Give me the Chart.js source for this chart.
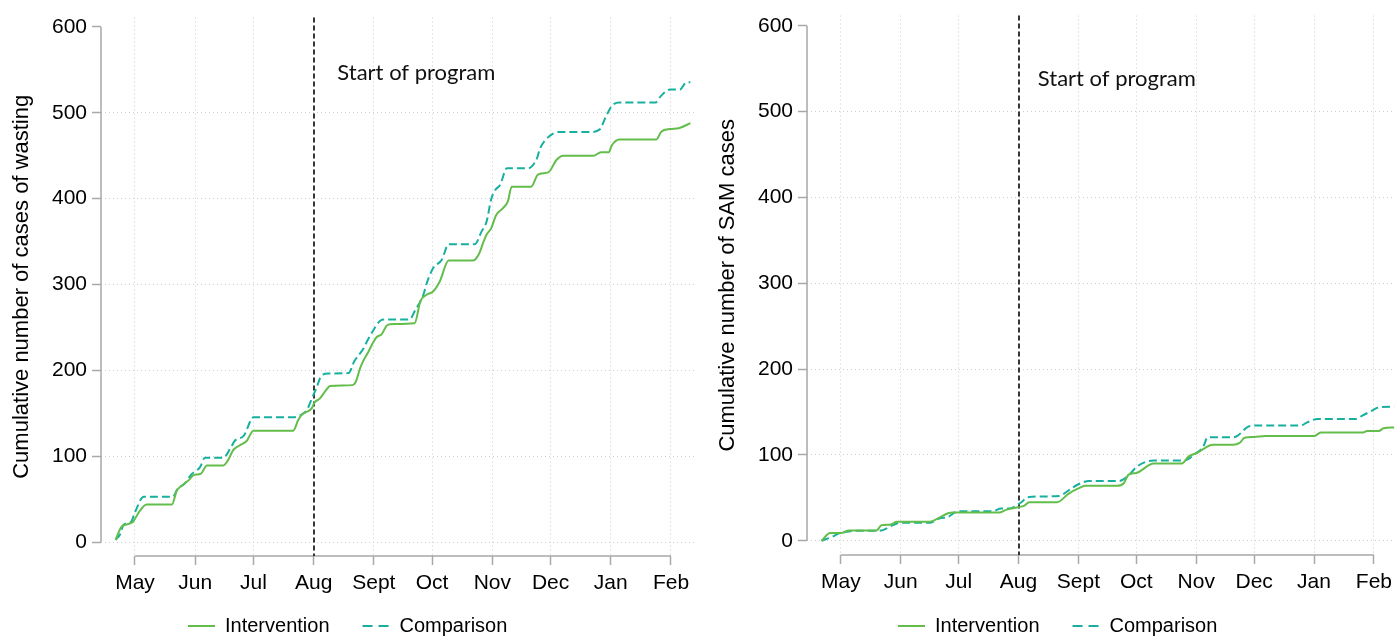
<!DOCTYPE html>
<html><head><meta charset="utf-8">
<script src="https://cdn.jsdelivr.net/npm/chart.js@4.4.1/dist/chart.umd.min.js"></script>
<style>
html,body{margin:0;padding:0;background:#fff;overflow:hidden;}
#wrap{position:relative;width:1398px;height:637px;overflow:hidden;}
canvas{position:absolute;}
#c1{left:0;top:0;}
#c2{left:699px;top:-2px;}
</style></head><body>
<div id="wrap"><canvas id="c1" width="700" height="637"></canvas><canvas id="c2" width="699" height="639"></canvas></div>
<script>
// ---- axis / category data ----
const monthDays = [0, 31, 61, 92, 123, 153, 184, 214, 245, 276]; // days since May 1
const monthLabels = ['May', 'Jun', 'Jul', 'Aug', 'Sept', 'Oct', 'Nov', 'Dec', 'Jan', 'Feb'];
const yTicks = [0, 100, 200, 300, 400, 500, 600];
const programStartDay = 92;
const programLabel = 'Start of program';
const seriesLabels = ['Intervention', 'Comparison'];

// ---- left panel: cumulative cases of wasting ----
const wastingIntDays = [-10, -7, -4, -1, 2, 6, 19, 21.5, 24, 28, 30, 34, 37, 45.5, 48, 50.5, 54, 57.5, 61, 81.5, 84, 86, 88.5, 91, 92.5, 95, 98, 100.5, 112, 113.5, 116, 117.5, 120, 122, 124.5, 127, 129.5, 131.5, 144, 147, 150, 153.5, 157, 161.5, 174, 177, 179.5, 181, 183.5, 186, 189.5, 192, 194, 204, 207.5, 213, 217, 220.5, 236, 240, 244, 245.5, 249.5, 268.5, 271, 275.5, 280, 286];
const wastingIntervention = [3, 18, 21, 24, 35, 44, 44, 60, 66, 73, 78, 80, 89.5, 89.5, 96, 107, 113, 118, 130, 130, 142, 149, 152, 156, 163, 167, 176, 182, 183, 186, 203, 211, 221, 230, 239, 242, 252, 254, 255, 281, 288, 292, 304, 328, 328, 335, 350, 358, 366, 381, 389, 397, 414, 414, 428, 431, 445, 450, 450, 454, 454, 462, 469, 469, 478, 481, 482, 488];
const wastingCompDays = [-10, -7.5, -6, -2, 0, 4.5, 19.5, 22, 25.5, 29, 33.5, 36, 45.5, 49, 51.5, 56, 61, 81.5, 86, 88.5, 91, 93.5, 96, 99.5, 110, 113, 117.5, 119.5, 122.5, 126, 128, 141.5, 144, 148.5, 150, 153.5, 158, 161.5, 175, 178.5, 181, 183.5, 185.5, 188, 191.5, 202.5, 207, 208.5, 213, 218, 234, 239.5, 242, 245.5, 249.5, 268, 271, 275.5, 280.5, 284, 286];
const wastingComparison = [3, 10, 20, 24, 35, 53, 53, 62.5, 68, 79, 87.5, 98.5, 98.5, 109, 118.5, 124, 145.5, 145.5, 149, 154, 167, 180, 194, 196.5, 197, 211, 225, 234, 246, 257.5, 259.5, 259.5, 269, 288, 300, 319, 329, 347, 347, 362, 373, 400, 410, 416, 435.5, 435.5, 447, 458, 472, 477.6, 477.6, 481, 493, 508, 512, 512, 520, 527, 527, 535.5, 535.5];

// ---- right panel: cumulative SAM cases ----
const samIntDays = [-10, -5.5, 0.5, 4, 18.5, 21, 26, 29, 46, 51, 55.5, 58, 82, 85.5, 91.5, 95, 97.5, 112, 118, 123, 126.5, 143, 146.5, 149, 153, 162, 176.5, 180, 185, 188.5, 192.5, 203, 206.5, 209, 214, 220, 245, 248.5, 270, 272.5, 278.5, 281, 286.5];
const samIntervention = [0, 9, 9, 12, 12, 18, 19, 22, 22, 27, 32, 33, 33, 36, 39, 41, 45, 45, 55, 61, 64, 64, 67, 77, 79, 90, 90, 98, 103, 108, 112, 112, 114, 120, 121, 122, 122, 126, 126, 128, 128, 131, 132];
const samCompDays = [-10, -4.5, -1, 3, 6.5, 20, 27, 30.5, 46, 51, 55.5, 59.5, 62.5, 78.5, 83, 87, 92.5, 97.5, 113, 118, 123, 128.5, 144, 149, 153, 157.5, 162, 178, 183.5, 187.5, 190, 203, 205.5, 211, 215, 238, 241.5, 247, 266.5, 270, 275, 278.5, 286.5];
const samComparison = [0, 4.6, 8.6, 10.4, 11.6, 11.6, 18.2, 20.9, 20.9, 26, 27.8, 33.6, 34.5, 34.5, 37.6, 37.6, 43.4, 51, 52.2, 58.8, 65.8, 69.6, 69.6, 76.2, 85.8, 91.6, 93.6, 93.6, 101.4, 109, 120.6, 120.6, 122.6, 133, 134.2, 134.2, 138, 142, 142, 145.8, 151.6, 155.5, 156.3];

// ---- styles ----
const GREEN = '#63bd4b';
const TEAL = '#17b09e';
const AXIS = '#a8a8a8';
const GRID = '#cfcfcf';
const FONT = 'Arial, "Liberation Sans", sans-serif';

function toPoints(xs, ys) { return xs.map((x, i) => ({ x: x, y: ys[i] })); }

const decorPlugin = {
  id: 'decor',
  beforeDatasetsDraw(chart, args, o) {
    const { ctx, chartArea: a, scales: { x, y } } = chart;
    ctx.save();
    ctx.strokeStyle = AXIS; ctx.lineWidth = 1.5; ctx.setLineDash([]);
    const x0 = x.getPixelForValue(monthDays[0]);
    const x1 = x.getPixelForValue(monthDays[monthDays.length - 1]);
    const y0 = y.getPixelForValue(yTicks[0]);
    const y1 = y.getPixelForValue(yTicks[yTicks.length - 1]);
    ctx.beginPath();
    ctx.moveTo(a.left, y0); ctx.lineTo(a.left, y1);
    ctx.moveTo(x0, a.bottom); ctx.lineTo(x1, a.bottom);
    ctx.stroke();
    const px = Math.round(x.getPixelForValue(programStartDay));
    ctx.strokeStyle = '#222'; ctx.lineWidth = 1.8; ctx.setLineDash([5, 3]);
    ctx.beginPath(); ctx.moveTo(px, a.top); ctx.lineTo(px, a.bottom); ctx.stroke();
    ctx.restore();
  },
  afterDraw(chart, args, o) {
    const { ctx, scales: { x } } = chart;
    ctx.save();
    ctx.fillStyle = '#111';
    ctx.font = '22px Lato, "Open Sans", sans-serif';
    ctx.textBaseline = 'alphabetic'; ctx.textAlign = 'left';
    ctx.fillText(programLabel, x.getPixelForValue(programStartDay) + o.textDx, o.textY);
    // legend
    ctx.font = '20px ' + FONT;
    ctx.textBaseline = 'middle';
    let xx = o.legendX; const yy = o.legendY;
    chart.data.datasets.forEach((ds) => {
      ctx.strokeStyle = ds.borderColor; ctx.lineWidth = 2;
      ctx.setLineDash(ds.borderDash ? [10, 6] : []);
      ctx.beginPath(); ctx.moveTo(xx, yy); ctx.lineTo(xx + 27, yy); ctx.stroke();
      ctx.setLineDash([]);
      ctx.fillStyle = '#000';
      ctx.fillText(ds.label, xx + 37, yy);
      xx += 37 + ctx.measureText(ds.label).width + 33;
    });
    ctx.restore();
  }
};

function makeChart(id, cfg) {
  return new Chart(document.getElementById(id), {
    type: 'line',
    data: {
      datasets: [
        { label: seriesLabels[0], data: toPoints(cfg.intDays, cfg.intVals), borderColor: GREEN, borderWidth: 2, pointRadius: 0, cubicInterpolationMode: 'monotone', fill: false },
        { label: seriesLabels[1], data: toPoints(cfg.compDays, cfg.compVals), borderColor: TEAL, borderWidth: 2, borderDash: [8, 4], pointRadius: 0, cubicInterpolationMode: 'monotone', fill: false }
      ]
    },
    options: {
      responsive: false, animation: false, devicePixelRatio: 1,
      layout: { padding: { top: 15, bottom: cfg.padBottom, left: 0, right: cfg.padRight } },
      plugins: {
        legend: { display: false }, tooltip: { enabled: false },
        decor: { textDx: cfg.textDx, textY: cfg.textY, legendX: cfg.legendX, legendY: cfg.legendY }
      },
      scales: {
        x: {
          type: 'linear', min: cfg.xMin, max: cfg.xMax, bounds: 'data',
          afterBuildTicks: s => { s.ticks = monthDays.map(v => ({ value: v })); },
          afterFit: s => { s.height = 40; },
          ticks: { callback: v => monthLabels[monthDays.indexOf(v)], autoSkip: false, maxRotation: 0, color: '#000', font: { family: FONT, size: 21 }, padding: 6 },
          grid: { color: GRID, lineWidth: 1, tickLength: 9, tickColor: AXIS, tickWidth: 1.5, tickBorderDash: [] },
          border: { display: false, dash: [1, 3] }
        },
        y: {
          type: 'linear', min: cfg.yMin, max: cfg.yMax, bounds: 'data',
          afterBuildTicks: s => { s.ticks = yTicks.map(v => ({ value: v })); },
          afterFit: s => { s.width = cfg.yWidth; },
          title: { display: true, text: cfg.yTitle, color: '#000', font: { family: FONT, size: 22 }, padding: { top: cfg.titlePad, bottom: 0 } },
          ticks: { color: '#000', font: { family: FONT, size: 21 }, padding: 5 },
          grid: { color: c => (c.tick && c.tick.value === yTicks[yTicks.length - 1]) ? 'rgba(0,0,0,0)' : GRID, lineWidth: 1, tickLength: 9, tickColor: AXIS, tickWidth: 1.5, tickBorderDash: [] },
          border: { display: false, dash: [1, 3] }
        }
      }
    },
    plugins: [decorPlugin]
  });
}

makeChart('c1', {
  intDays: wastingIntDays, intVals: wastingIntervention, compDays: wastingCompDays, compVals: wastingComparison,
  yTitle: 'Cumulative number of cases of wasting',
  xMin: -17.5, xMax: 289.4, yMin: -15.9, yMax: 610.8,
  yWidth: 101, padRight: 3, padBottom: 41, titlePad: 9,
  textDx: 23.7, textY: 80, legendX: 188, legendY: 626
});
makeChart('c2', {
  intDays: samIntDays, intVals: samIntervention, compDays: samCompDays, compVals: samComparison,
  yTitle: 'Cumulative number of SAM cases',
  xMin: -17.5, xMax: 287, yMin: -16.6, yMax: 611.9,
  yWidth: 108, padRight: 0, padBottom: 42, titlePad: 16,
  textDx: 19.3, textY: 88, legendX: 199, legendY: 628
});
</script>
</body></html>
